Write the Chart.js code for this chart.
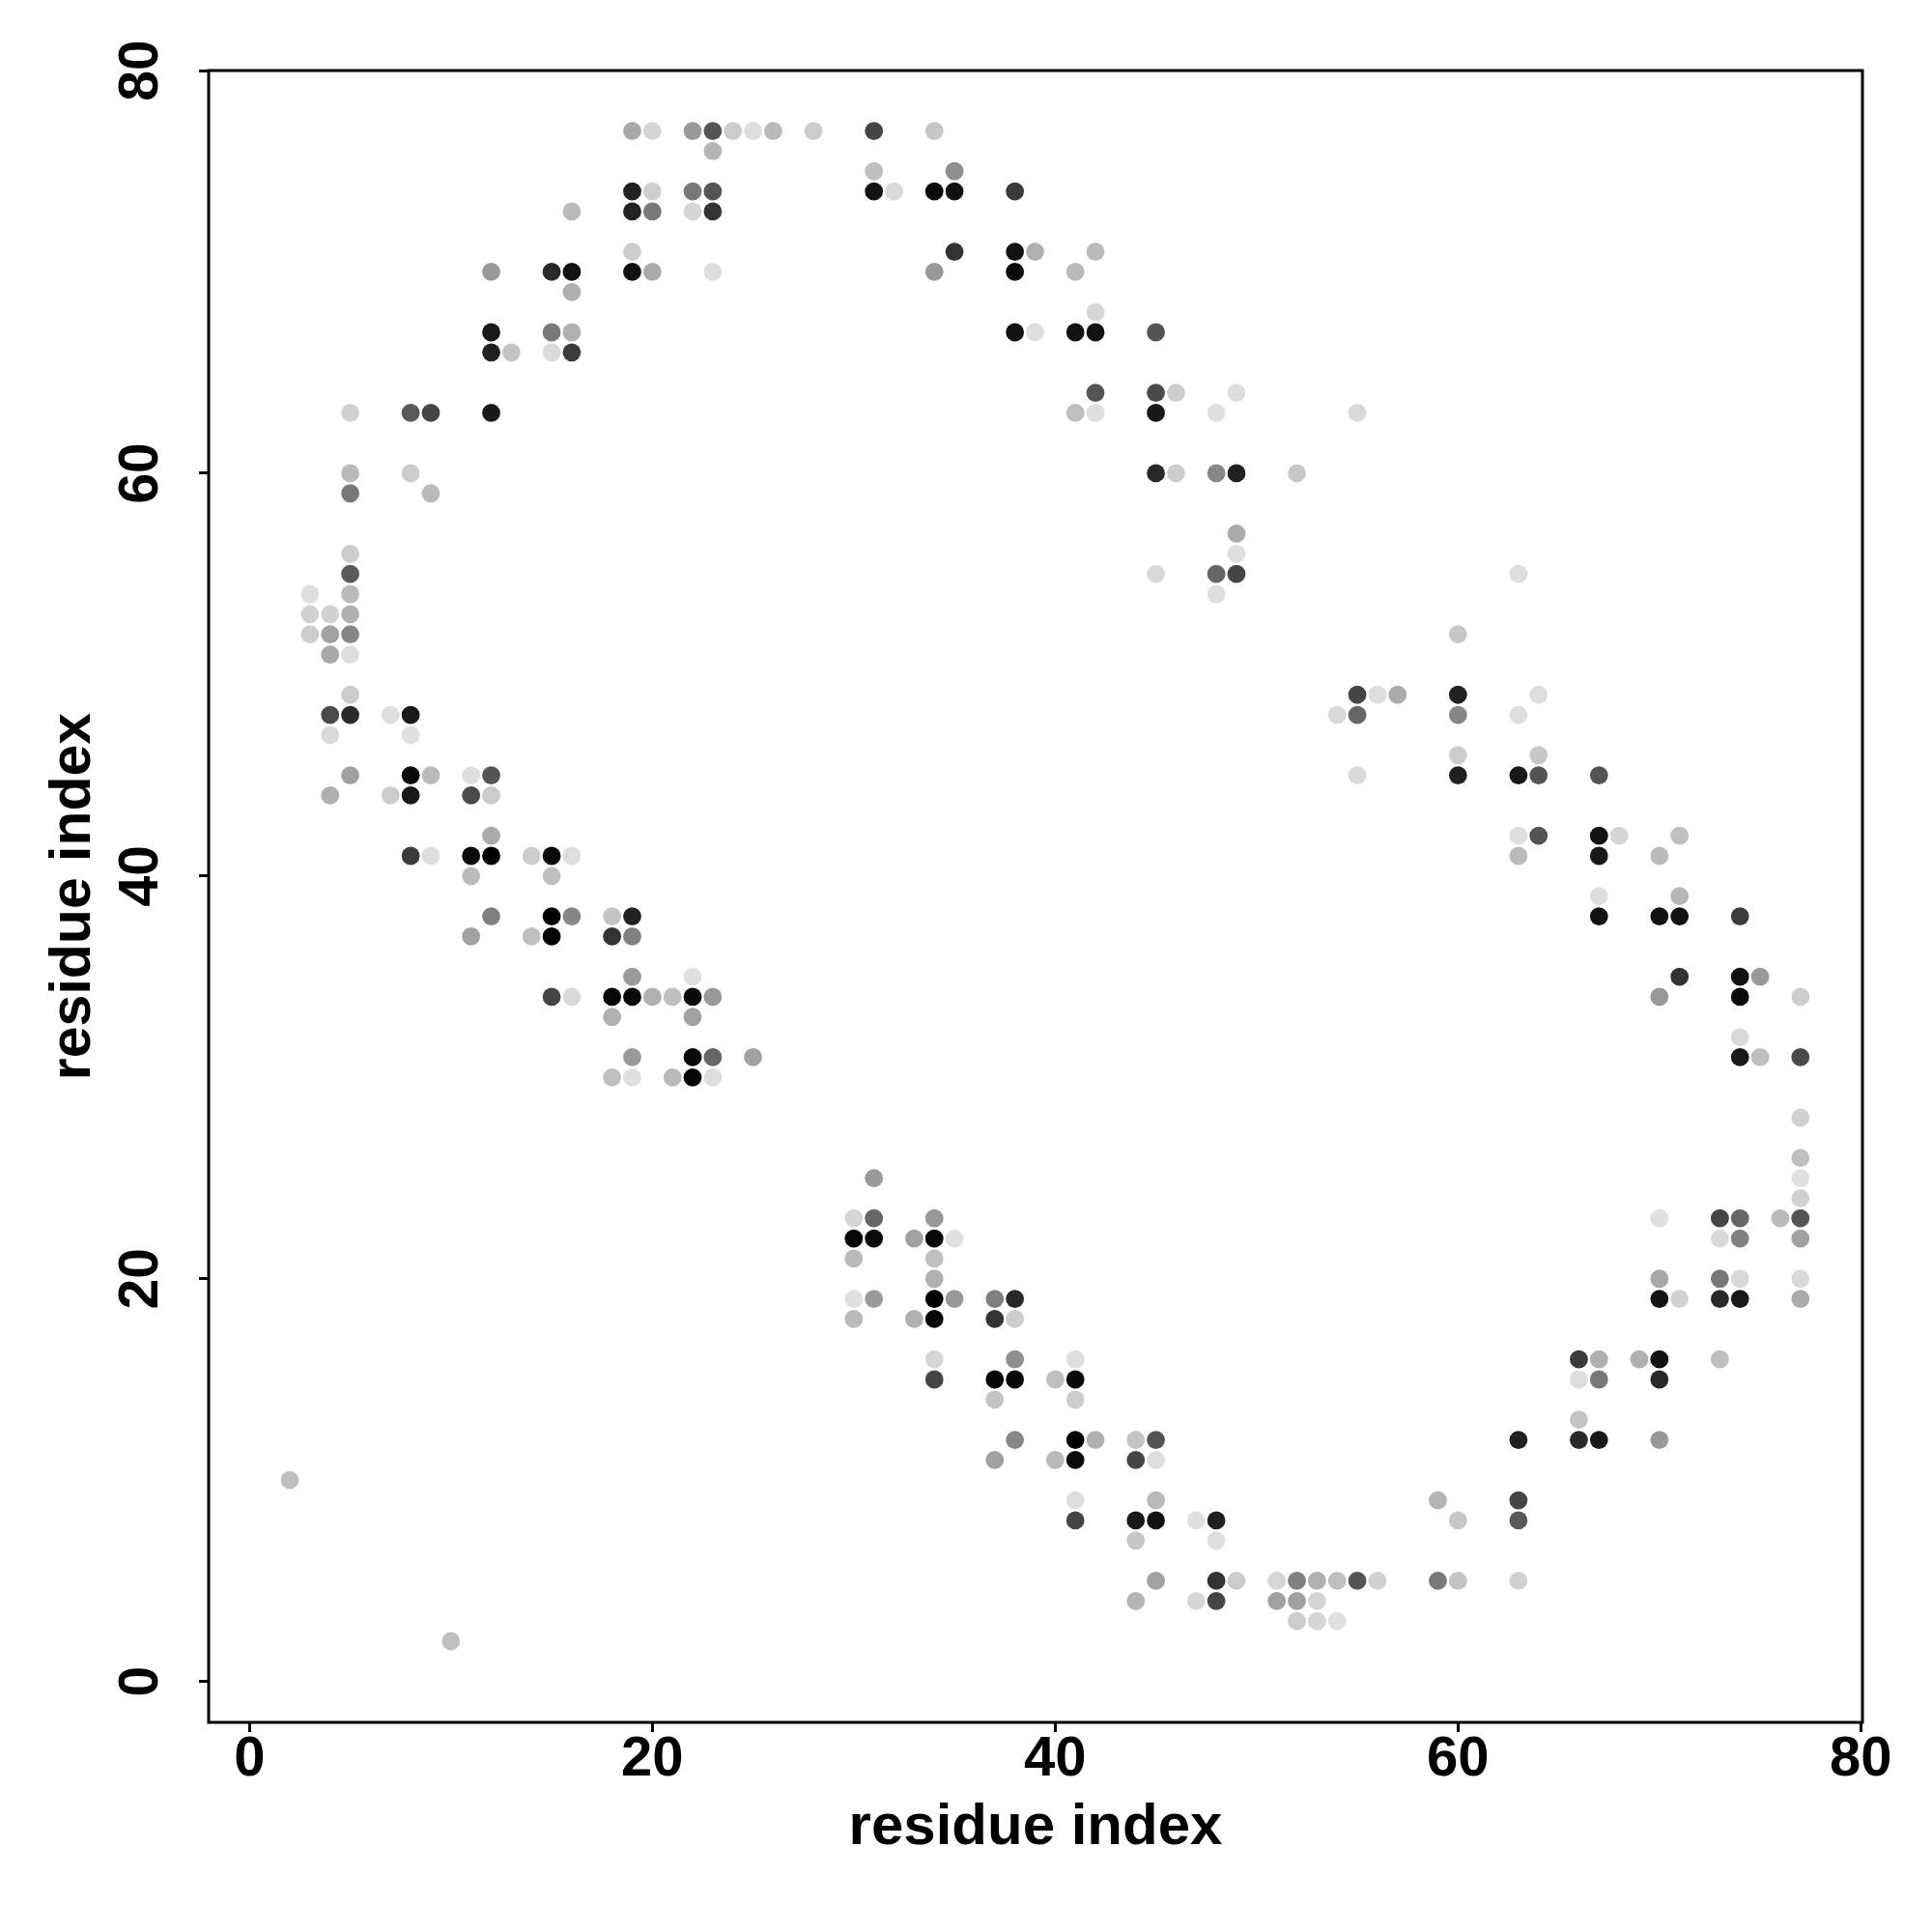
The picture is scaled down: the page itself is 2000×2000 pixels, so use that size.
<!DOCTYPE html>
<html lang="en">
<head>
<meta charset="UTF-8"/>
<title>residue contact map</title>
<script src="https://cdn.jsdelivr.net/npm/chart.js@4.4.1/dist/chart.umd.min.js"></script>
<style>
  html, body { margin: 0; padding: 0; background: #fff; }
  canvas { display: block; }
</style>
</head>
<body>
<canvas id="chart" width="2000" height="2000"></canvas>
<script>
// one entry per row (residue j on y): partner residues i on x and their contact score (0..1)
const rowY = [77, 76, 75, 74, 73, 71, 70, 69, 68, 67, 66, 64, 63, 60, 59, 57, 56, 55, 54, 53, 52, 51,
              49, 48, 47, 46, 45, 44, 42, 41, 40, 39, 38, 37, 35, 34, 33, 32, 31, 30, 28, 26, 25, 24,
              23, 22, 21, 20, 19, 18, 16, 15, 14, 13, 12, 11, 10, 9, 8, 7, 5, 4, 3, 2];

const rowX = [
  [19, 20, 22, 23, 24, 25, 26, 28, 31, 34],
  [23],
  [31, 35],
  [19, 20, 22, 23, 31, 32, 34, 35, 38],
  [16, 19, 20, 22, 23],
  [19, 35, 38, 39, 42],
  [12, 15, 16, 19, 20, 23, 34, 38, 41],
  [16],
  [42],
  [12, 15, 16, 38, 39, 41, 42, 45],
  [12, 13, 15, 16],
  [42, 45, 46, 49],
  [5, 8, 9, 12, 41, 42, 45, 48, 55],
  [5, 8, 45, 46, 48, 49, 52],
  [5, 9],
  [49],
  [5, 49],
  [5, 45, 48, 49, 63],
  [3, 5, 48],
  [3, 4, 5],
  [3, 4, 5, 60],
  [4, 5],
  [5, 55, 56, 57, 60, 64],
  [4, 5, 7, 8, 54, 55, 60, 63],
  [4, 8],
  [60, 64],
  [5, 8, 9, 11, 12, 55, 60, 63, 64, 67],
  [4, 7, 8, 11, 12],
  [12, 63, 64, 67, 68, 71],
  [8, 9, 11, 12, 14, 15, 16, 63, 67, 70],
  [11, 15],
  [67, 71],
  [12, 15, 16, 18, 19, 67, 70, 71, 74],
  [11, 14, 15, 18, 19],
  [19, 22, 71, 74, 75],
  [15, 16, 18, 19, 20, 21, 22, 23, 70, 74, 77],
  [18, 22],
  [74],
  [19, 22, 23, 25, 74, 75, 77],
  [18, 19, 21, 22, 23],
  [77],
  [77],
  [31, 77],
  [77],
  [30, 31, 34, 70, 73, 74, 76, 77],
  [30, 31, 33, 34, 35, 73, 74, 77],
  [30, 34],
  [34, 70, 73, 74, 77],
  [30, 31, 34, 35, 37, 38, 70, 71, 73, 74, 77],
  [30, 33, 34, 37, 38],
  [34, 38, 41, 66, 67, 69, 70, 73],
  [34, 37, 38, 40, 41, 66, 67, 70],
  [37, 41],
  [66],
  [38, 41, 42, 44, 45, 63, 66, 67, 70],
  [37, 40, 41, 44, 45],
  [2],
  [41, 45, 59, 63],
  [41, 44, 45, 47, 48, 60, 63],
  [44, 48],
  [45, 48, 49, 51, 52, 53, 54, 55, 56, 59, 60, 63],
  [44, 47, 48, 51, 52, 53],
  [52, 53, 54],
  [10]
];

const rowScore = [
  [.34, .16, .40, .67, .20, .13, .27, .20, .73, .22],
  [.29],
  [.25, .44],
  [.87, .19, .53, .67, .93, .15, .96, .93, .77],
  [.27, .87, .53, .16, .80],
  [.20, .80, .93, .31, .27],
  [.40, .84, .93, .93, .33, .13, .40, .96, .27],
  [.31],
  [.16],
  [.90, .53, .31, .93, .13, .93, .93, .67],
  [.87, .23, .14, .77],
  [.67, .71, .20, .13],
  [.18, .65, .73, .90, .25, .13, .90, .12, .15],
  [.27, .20, .84, .20, .47, .87, .22],
  [.53, .27],
  [.33],
  [.20, .13],
  [.65, .15, .60, .73, .13],
  [.13, .27, .13],
  [.18, .18, .31],
  [.20, .37, .47, .22],
  [.34, .13],
  [.20, .73, .13, .33, .87, .13],
  [.71, .84, .13, .90, .15, .60, .47, .13],
  [.15, .12],
  [.20, .22],
  [.37, .96, .27, .13, .67, .15, .87, .90, .67, .67],
  [.31, .20, .90, .71, .20],
  [.33, .13, .67, .93, .16, .25],
  [.77, .13, .96, 1, .20, .96, .13, .27, .90, .27],
  [.27, .25],
  [.13, .29],
  [.50, 1, .47, .23, .87, .93, .93, .93, .77],
  [.37, .25, 1, .80, .50],
  [.40, .12, .80, .93, .40],
  [.73, .15, .98, .96, .31, .25, .96, .40, .40, .96, .20],
  [.31, .37],
  [.15],
  [.40, .96, .60, .37, .90, .25, .71],
  [.25, .12, .27, .98, .13],
  [.18],
  [.25],
  [.40, .12],
  [.18],
  [.16, .60, .40, .12, .73, .60, .27, .67],
  [.98, .96, .37, .98, .12, .15, .50, .37],
  [.27, .25],
  [.31, .34, .53, .15, .15],
  [.12, .40, 1, .40, .50, .84, .93, .18, .84, .90, .33],
  [.27, .31, .98, .80, .20],
  [.16, .44, .13, .77, .31, .31, .93, .25],
  [.73, .98, .96, .25, .96, .13, .53, .84],
  [.23, .20],
  [.23],
  [.47, 1, .31, .23, .67, .87, .84, .90, .40],
  [.37, .27, .96, .73, .13],
  [.25],
  [.13, .27, .29, .73],
  [.73, .90, .93, .12, .87, .22, .65],
  [.22, .13],
  [.37, .80, .20, .16, .50, .31, .25, .67, .18, .53, .23, .18],
  [.29, .16, .73, .37, .37, .16],
  [.20, .16, .12],
  [.25]
];

const xTicks = [0, 20, 40, 60, 80];
const yTicks = [0, 20, 40, 60, 80];
const axisTitle = 'residue index';

const FONT = '"Liberation Sans", Arial, Helvetica, sans-serif';

// flatten rows into scatter points
const points = [];
rowY.forEach((y, r) => {
  rowX[r].forEach((x, k) => points.push({ x: x, y: y, s: rowScore[r][k] }));
});

// higher score -> darker grey
function greyOf(s) {
  const g = Math.round(255 * (1 - s));
  return 'rgb(' + g + ',' + g + ',' + g + ')';
}

// box around the plot area + rotated y tick labels (R style)
const frame = {
  id: 'frame',
  afterDraw(chart) {
    const { ctx, chartArea: a, scales } = chart;
    ctx.save();
    ctx.strokeStyle = '#000';
    ctx.lineWidth = 3;
    ctx.strokeRect(a.left, a.top, a.right - a.left, a.bottom - a.top);

    ctx.fillStyle = '#000';
    ctx.font = 'bold 57px ' + FONT;
    ctx.textAlign = 'center';
    ctx.textBaseline = 'middle';
    yTicks.forEach(v => {
      ctx.save();
      ctx.translate(147, scales.y.getPixelForValue(v));
      ctx.rotate(-Math.PI / 2);
      ctx.fillText(String(v), 0, 0);
      ctx.restore();
    });
    ctx.restore();
  }
};

const ctx = document.getElementById('chart').getContext('2d');
const myChart = new Chart(ctx, {
  type: 'scatter',
  data: {
    datasets: [{
      data: points,
      backgroundColor: points.map(p => greyOf(p.s)),
      borderWidth: 0,
      pointRadius: 9.4,
      pointHoverRadius: 9.4
    }]
  },
  options: {
    responsive: false,
    animation: false,
    devicePixelRatio: 1,
    layout: { padding: { left: 0, top: 73, right: 72, bottom: 0 } },
    plugins: {
      legend: { display: false },
      tooltip: { enabled: false }
    },
    scales: {
      x: {
        type: 'linear',
        position: 'bottom',
        min: -2.03,
        max: 80.08,
        afterBuildTicks: s => { s.ticks = xTicks.map(v => ({ value: v })); },
        afterFit: s => { s.height = 217; },
        border: { display: false },
        grid: {
          drawOnChartArea: false,
          drawTicks: true,
          tickLength: 10,
          tickWidth: 3,
          tickColor: '#000',
          color: '#000'
        },
        ticks: {
          color: '#000',
          padding: 0,
          maxRotation: 0,
          autoSkip: false,
          font: { family: FONT, size: 58, weight: 'bold', lineHeight: 1 }
        },
        title: {
          display: true,
          text: axisTitle,
          color: '#000',
          font: { family: FONT, size: 60, weight: 'bold', lineHeight: 1 },
          padding: { top: 0, bottom: 78 }
        }
      },
      y: {
        type: 'linear',
        position: 'left',
        min: -2.03,
        max: 80.0,
        afterBuildTicks: s => { s.ticks = yTicks.map(v => ({ value: v })); },
        afterFit: s => { s.width = 216; },
        border: { display: false },
        grid: {
          drawOnChartArea: false,
          drawTicks: true,
          tickLength: 10,
          tickWidth: 3,
          tickColor: '#000',
          color: '#000'
        },
        ticks: { display: false },
        title: {
          display: true,
          text: axisTitle,
          color: '#000',
          font: { family: FONT, size: 59, weight: 'bold', lineHeight: 1 },
          padding: { top: 47, bottom: 0 }
        }
      }
    }
  },
  plugins: [frame]
});
</script>
</body>
</html>
